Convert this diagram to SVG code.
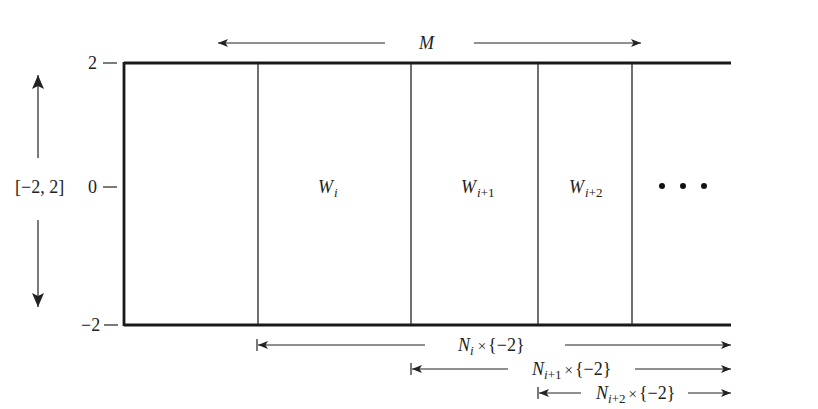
<svg xmlns="http://www.w3.org/2000/svg" width="818" height="409" viewBox="0 0 818 409">
<defs>
<style>
text{font-family:"Liberation Serif","Times New Roman",Times,serif;font-size:18px;fill:#222}
.it{font-style:italic}
.sub{font-size:13px;font-style:italic}
.num{font-size:13px;font-style:normal}
.x{font-size:15px;font-style:normal}
.thin{stroke:#222;stroke-width:1.2;fill:none}
.thick{stroke:#1a1a1a;stroke-width:2.8;fill:none}
.vl{stroke:#222;stroke-width:1.3}
</style>
<marker id="ah" viewBox="0 0 10 8" refX="10" refY="4" markerWidth="10" markerHeight="8" markerUnits="userSpaceOnUse" orient="auto-start-reverse">
<path d="M0,0 L10,4 L0,8 L2.5,4 Z" fill="#222"/>
</marker>
<marker id="ahb" viewBox="0 0 14 12" refX="14" refY="6" markerWidth="14" markerHeight="12" markerUnits="userSpaceOnUse" orient="auto-start-reverse">
<path d="M0,0 L14,6 L0,12 L3,6 Z" fill="#222"/>
</marker>
</defs>
<rect width="818" height="409" fill="#fff"/>
<g id="frame">
<line class="thick" x1="124" y1="63" x2="731" y2="63"/>
<line class="thick" x1="124" y1="325" x2="731" y2="325"/>
<line class="thick" x1="124" y1="62" x2="124" y2="326"/>
<line class="vl" x1="258" y1="63" x2="258" y2="325"/>
<line class="vl" x1="411" y1="63" x2="411" y2="325"/>
<line class="vl" x1="538" y1="63" x2="538" y2="325"/>
<line class="vl" x1="632" y1="63" x2="632" y2="325"/>
</g>
<g id="axis">
<text x="88" y="69">2</text>
<line class="thin" x1="103" y1="63" x2="117" y2="63"/>
<text x="88" y="193">0</text>
<line class="thin" x1="103" y1="187" x2="117" y2="187"/>
<text x="81" y="331">−2</text>
<line class="thin" x1="104" y1="325" x2="118" y2="325"/>
<text x="15" y="193">[−2, 2]</text>
</g>
<g id="cells">
<text class="it" x="318" y="193">W<tspan class="sub" dx="1" dy="4">i</tspan></text>
<text class="it" x="461" y="193">W<tspan class="sub" dx="1" dy="4">i</tspan><tspan class="num">+1</tspan></text>
<text class="it" x="569" y="193">W<tspan class="sub" dx="1" dy="4">i</tspan><tspan class="num">+2</tspan></text>
<circle cx="662" cy="186" r="3" fill="#111"/>
<circle cx="683" cy="186" r="3" fill="#111"/>
<circle cx="704" cy="186" r="3" fill="#111"/>
</g>
<g id="connectors">
<line class="thin" x1="385" y1="43" x2="218" y2="43" marker-end="url(#ah)"/>
<line class="thin" x1="474" y1="43" x2="641" y2="43" marker-end="url(#ah)"/>
<line class="thin" x1="38" y1="158" x2="38" y2="75" marker-end="url(#ahb)"/>
<line class="thin" x1="38" y1="220" x2="38" y2="307" marker-end="url(#ahb)"/>
<line class="thin" x1="257" y1="339" x2="257" y2="351"/>
<line class="thin" x1="425" y1="345" x2="258" y2="345" marker-end="url(#ah)"/>
<line class="thin" x1="565" y1="345" x2="731" y2="345" marker-end="url(#ah)"/>
<line class="thin" x1="411" y1="363" x2="411" y2="375"/>
<line class="thin" x1="508" y1="369" x2="412" y2="369" marker-end="url(#ah)"/>
<line class="thin" x1="635" y1="369" x2="731" y2="369" marker-end="url(#ah)"/>
<line class="thin" x1="538" y1="387" x2="538" y2="399"/>
<line class="thin" x1="581" y1="393" x2="539" y2="393" marker-end="url(#ah)"/>
<line class="thin" x1="688" y1="393" x2="731" y2="393" marker-end="url(#ah)"/>
</g>
<g id="labels">
<text class="it" x="419" y="49">M</text>
<text x="458" y="351"><tspan class="it">N</tspan><tspan class="sub" dy="4">i</tspan><tspan class="x" dx="4" dy="-4">×</tspan><tspan dx="2">{−2}</tspan></text>
<text x="532" y="375"><tspan class="it">N</tspan><tspan class="sub" dy="4">i</tspan><tspan class="num">+1</tspan><tspan class="x" dx="3" dy="-4">×</tspan><tspan dx="2">{−2}</tspan></text>
<text x="596" y="399"><tspan class="it">N</tspan><tspan class="sub" dy="4">i</tspan><tspan class="num">+2</tspan><tspan class="x" dx="3" dy="-4">×</tspan><tspan dx="2">{−2}</tspan></text>
</g>
</svg>
